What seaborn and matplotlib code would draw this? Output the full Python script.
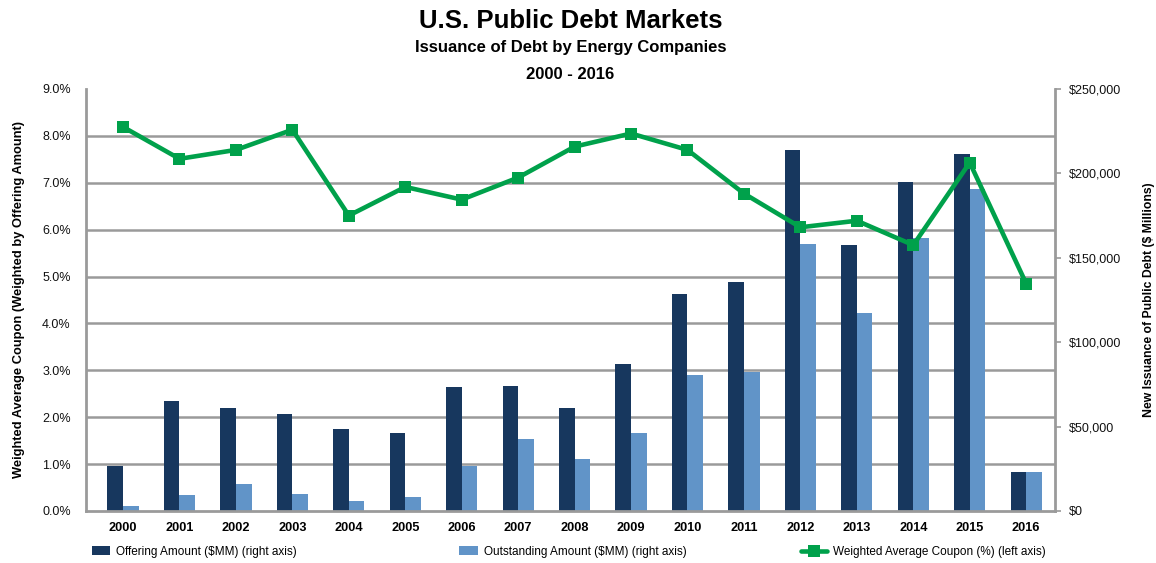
import matplotlib
matplotlib.use("Agg")
import matplotlib.pyplot as plt
from matplotlib import font_manager
from matplotlib.lines import Line2D
from matplotlib.patches import Patch
from matplotlib.ticker import FixedLocator, FuncFormatter
import numpy as np
import pandas as pd
import seaborn as sns

# ---------------- data ----------------
years = ["2000", "2001", "2002", "2003", "2004", "2005", "2006", "2007", "2008",
         "2009", "2010", "2011", "2012", "2013", "2014", "2015", "2016"]
offering = [26800, 65200, 60800, 57300, 48600, 46400, 73300, 73900, 60800,
            86900, 128700, 135800, 213700, 157600, 195100, 211700, 23300]
outstanding = [3100, 9500, 16000, 10300, 5900, 8100, 26800, 42700, 30600,
               46400, 80400, 82400, 158200, 117100, 161700, 190800, 23300]
coupon = [8.19, 7.51, 7.70, 8.13, 6.30, 6.91, 6.64, 7.11, 7.77,
          8.05, 7.70, 6.77, 6.05, 6.19, 5.67, 7.43, 4.85]

series_names = ["Offering Amount ($MM) (right axis)",
                "Outstanding Amount ($MM) (right axis)"]
line_name = "Weighted Average Coupon (%) (left axis)"
title = "U.S. Public Debt Markets"
subtitle = "Issuance of Debt by Energy Companies"
subtitle2 = "2000 - 2016"
left_label = "Weighted Average Coupon (Weighted by Offering Amount)"
right_label = "New Issuance of Public Debt ($ Millions)"

# ---------------- style ----------------
sns.set_theme(style="white")
plt.rcParams["font.family"] = ["Liberation Sans", "DejaVu Sans"]
plt.rcParams["text.color"] = "black"
plt.rcParams["axes.labelcolor"] = "black"
names = {f.name for f in font_manager.fontManager.ttflist}
legend_family = ["Liberation Sans Narrow", "Liberation Sans"] if "Liberation Sans Narrow" in names else ["Liberation Sans"]

DARK = "#17375E"
LIGHT = "#6194C8"
GREEN = "#00A14B"
GRID = "#9A9A9A"

df = pd.DataFrame({
    "year": years * 2,
    "value": offering + outstanding,
    "series": [series_names[0]] * len(years) + [series_names[1]] * len(years),
})

fig = plt.figure(figsize=(11.56, 5.63), dpi=100)
ax = fig.add_axes([0.0744, 0.0924, 0.8382, 0.7496])

sns.barplot(data=df, x="year", y="value", hue="series", order=years,
            hue_order=series_names, palette=[DARK, LIGHT], width=0.554,
            saturation=1, gap=0, edgecolor="none", linewidth=0, ax=ax,
            legend=False, zorder=2)

ax2 = ax.twinx()

ax.set_ylim(0, 250000)
ax.set_xlim(-0.656, 16.51)
ax.yaxis.tick_right()
ax.yaxis.set_label_position("right")
ax.yaxis.set_major_locator(FixedLocator(np.arange(0, 250001, 50000)))
ax.yaxis.set_major_formatter(FuncFormatter(lambda v, p: f"${v:,.0f}"))
ax.yaxis.set_minor_locator(FixedLocator(np.arange(0, 10) * 250000 / 9))
ax.grid(False)
ax.grid(True, which="minor", axis="y", color=GRID, linewidth=1.8, zorder=0)
ax.set_axisbelow(True)
ax.tick_params(axis="y", which="major", length=4, width=1.2, color=GRID,
               labelsize=9, pad=6, labelcolor="#111111", direction="out",
               left=False, right=True, labelleft=False, labelright=True)
ax.tick_params(axis="y", which="minor", length=0)
ax.tick_params(axis="x", length=0, labelsize=9.2, pad=8, labelcolor="black")
for lab in ax.get_xticklabels():
    lab.set_fontweight("bold")
ax.set_xlabel("")
ax.set_ylabel(right_label, fontsize=8.8, fontweight="bold", labelpad=16,
              rotation=90)
for side in ["left", "right", "bottom"]:
    ax.spines[side].set_color(GRID)
    ax.spines[side].set_linewidth(2)
ax.spines["top"].set_visible(False)

# line on twin axis (left scale)
sns.lineplot(x=np.arange(len(years)), y=coupon, ax=ax2, color=GREEN,
             linewidth=3.3, marker="s", markersize=8.5, markeredgewidth=0,
             markerfacecolor=GREEN, legend=False, zorder=5)
ax2.set_ylim(0, 9)
ax2.set_xlim(-0.656, 16.51)
ax2.yaxis.tick_left()
ax2.yaxis.set_label_position("left")
ax2.yaxis.set_major_locator(FixedLocator(np.arange(0, 9.01, 1)))
ax2.yaxis.set_major_formatter(FuncFormatter(lambda v, p: f"{v:.1f}%"))
ax2.tick_params(axis="y", length=0, labelsize=9, pad=11, labelcolor="#111111",
                left=True, right=False, labelleft=True, labelright=False)
ax2.set_ylabel(left_label, fontsize=9.3, fontweight="bold", labelpad=12)
ax2.grid(False)
for side in ["left", "right", "bottom", "top"]:
    ax2.spines[side].set_visible(False)

# titles
cx = 0.0744 + 0.8382 / 2
fig.text(cx, 0.963, title, ha="center", va="center", fontsize=18.5, fontweight="bold")
fig.text(cx, 0.915, subtitle, ha="center", va="center", fontsize=12, fontweight="bold")
fig.text(cx, 0.868, subtitle2, ha="center", va="center", fontsize=12, fontweight="bold")

# legends
handles = [Patch(facecolor=DARK, edgecolor="none"),
           Patch(facecolor=LIGHT, edgecolor="none"),
           Line2D([0], [0], color=GREEN, linewidth=3.3, marker="s", markersize=8,
                  markeredgewidth=0)]
labels = series_names + [line_name]
xs = [0.070, 0.388, 0.684]
for h, l, x in zip(handles, labels, xs):
    leg = fig.legend([h], [l], loc="center left", bbox_to_anchor=(x, 0.02),
                     frameon=False, handlelength=1.6 if x < 0.6 else 2.2,
                     handleheight=0.7, handletextpad=0.5,
                     prop={"family": legend_family, "size": 8.5})

fig.savefig("out.png", dpi=100)
